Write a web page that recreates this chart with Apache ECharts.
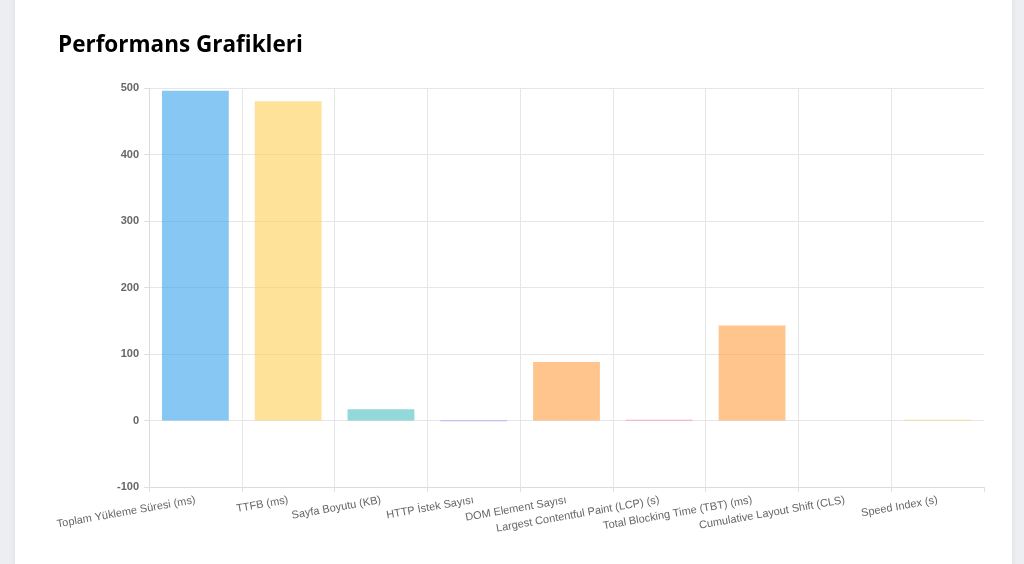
<!DOCTYPE html>
<html><head><meta charset="utf-8">
<script src="https://cdn.jsdelivr.net/npm/echarts@6/dist/echarts.min.js"></script>
<style>
html,body{margin:0;padding:0;width:1024px;height:564px;overflow:hidden;background:#eceef1;}
#card{position:absolute;left:15px;top:-20px;width:997px;height:620px;background:#fff;box-shadow:0 0 6px rgba(0,0,0,0.08);}
#chart{position:absolute;left:0;top:0;width:1024px;height:564px;}
</style></head><body>
<div id="card"></div>
<div id="chart"></div>
<script>
const titleText = "Performans Grafikleri";
const categories = ["Toplam Yükleme Süresi (ms)", "TTFB (ms)", "Sayfa Boyutu (KB)", "HTTP İstek Sayısı", "DOM Element Sayısı", "Largest Contentful Paint (LCP) (s)", "Total Blocking Time (TBT) (ms)", "Cumulative Layout Shift (CLS)", "Speed Index (s)"];
const values = [496, 480, 17, -1, 88, 1, 143, 0, 1];
const barColors = ["rgba(54,162,235,0.6)", "rgba(255,206,86,0.6)", "rgba(75,192,192,0.6)", "rgba(153,102,255,0.6)", "rgba(255,159,64,0.6)", "rgba(255,99,132,0.6)", "rgba(255,159,64,0.6)", "rgba(75,192,192,0.6)", "rgba(255,206,86,0.6)"];
const yTicks = {min: -100, max: 500, interval: 100};

const chart = echarts.init(document.getElementById('chart'), null, {renderer: 'canvas'});
chart.setOption({
  animation: false,
  title: {text: titleText, left: 53, top: 29, textStyle: {fontFamily: 'Open Sans', fontWeight: 'bold', fontSize: 22.5, color: '#000'}},
  grid: {left: 149, right: 40, top: 88, bottom: 77, containLabel: false},
  xAxis: {
    type: 'category', data: categories, boundaryGap: true,
    axisLine: {show: true, onZero: false, lineStyle: {color: '#dcdcdc'}},
    axisTick: {show: true, length: 5, lineStyle: {color: '#e0e0e0'}},
    splitLine: {show: true, showMaxLine: false, lineStyle: {color: '#e6e6e6'}},
    axisLabel: {rotate: 10, interval: 0, color: '#666', fontFamily: 'Liberation Sans', fontSize: 11, margin: 13}
  },
  yAxis: {
    type: 'value', min: yTicks.min, max: yTicks.max, interval: yTicks.interval,
    axisLine: {show: true, lineStyle: {color: '#dcdcdc'}},
    axisTick: {show: true, length: 5, lineStyle: {color: '#e0e0e0'}},
    splitLine: {show: true, lineStyle: {color: '#e6e6e6'}},
    axisLabel: {color: '#666', fontFamily: 'Liberation Sans', fontSize: 11, fontWeight: 'bold', margin: 10}
  },
  series: [{
    type: 'bar', barWidth: '72%',
    data: values.map((v, i) => ({value: v, itemStyle: {color: barColors[i]}})),
    itemStyle: {borderWidth: 0}
  }]
});
</script>
</body></html>
